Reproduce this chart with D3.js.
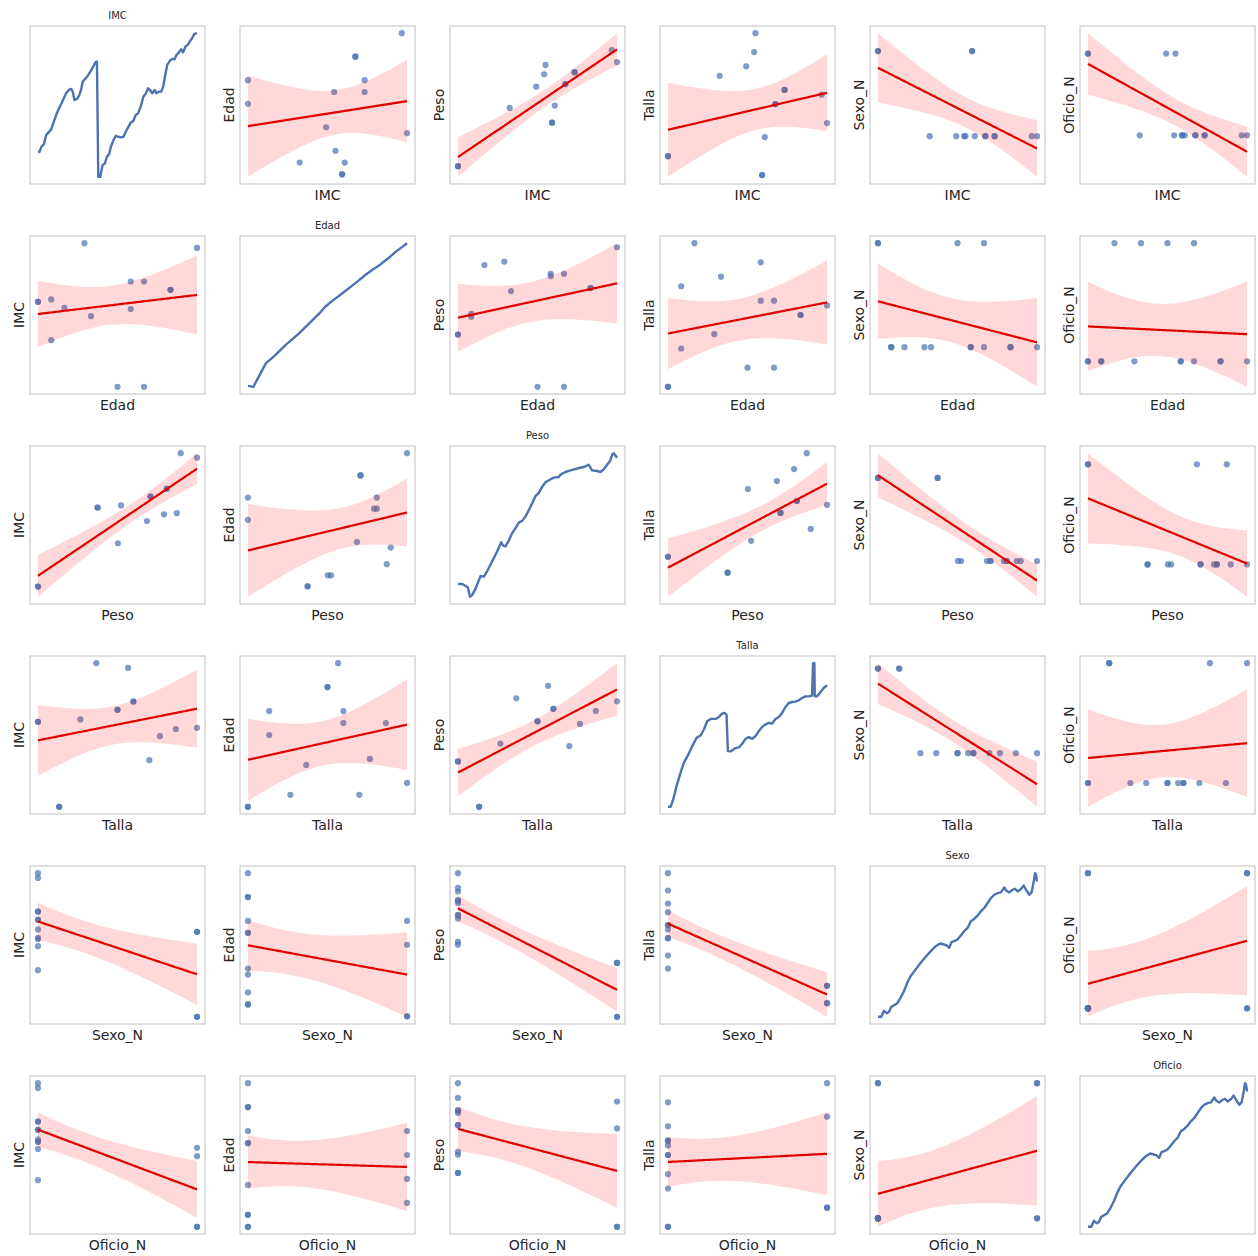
<!DOCTYPE html>
<html>
<head>
<meta charset="utf-8">
<script src="https://cdn.jsdelivr.net/npm/d3@7"></script>
<style>
  body { margin: 0; background: #fff; }
  text { font-family: "DejaVu Sans", "Liberation Sans", sans-serif; fill: #262626; }
</style>
</head>
<body>
<svg id="chart" width="1258" height="1256"></svg>
<script>
// Variables of the survey table, in grid order
const variables  = ["IMC", "Edad", "Peso", "Talla", "Sexo_N", "Oficio_N"];
const diagTitles = ["IMC", "Edad", "Peso", "Talla", "Sexo", "Oficio"];

// One entry per person
const imc     = [18.0, 18.0, 21.9, 23.9, 24.5, 24.6, 25.1, 25.1, 25.3, 26.1, 26.1, 26.8, 26.8, 29.6, 30.0];
const edad    = [36, 32, 22, 28, 34, 24, 20, 20, 22, 40, 40, 36, 34, 44, 27];
const peso    = [50.0, 50.0, 70.1, 77.4, 81.7, 84.9, 65.0, 65.0, 70.9, 78.3, 78.3, 82.4, 82.4, 90.0, 85.9];
const talla   = [1.54, 1.54, 1.71, 1.73, 1.76, 1.80, 1.50, 1.50, 1.58, 1.65, 1.65, 1.68, 1.68, 1.67, 1.61];
const sexoN   = [1, 1, 0, 0, 0, 0, 1, 1, 0, 0, 0, 0, 0, 0, 0];
const oficioN = [1, 1, 0, 1, 0, 1, 0, 0, 0, 0, 0, 0, 0, 0, 0];

// Diagonal traces: [position, level]
const diagIMC = [[0,20],[1,20],[2,23],[3.6,24.6],[5,30],[6.4,31.6],[8,33.4],[9.6,38],[11,42],[12.4,45.4],[14,48.6],[15.6,52],[17,55],[18.6,57],[20,57.6],[21,56],[22,51],[23.6,51.6],[25,54],[26,57],[27,62],[28.4,63.6],[30,65.4],[31.6,68],[33,70.4],[34.6,73.4],[35.6,74],[36.4,5],[37.6,5],[39,12],[40.4,13],[41.6,17],[43,18.6],[44,23],[45.6,27],[47,29.6],[48.4,29],[50,28.6],[51.6,29],[53,32],[54.4,34.6],[56,37.4],[57.6,38.6],[59,42],[60.4,43],[62,47],[63.6,53],[65,54.6],[66.4,58],[67.6,57],[69,55],[70.4,57],[71.6,55],[73,56],[74.4,56],[75.6,59],[77,67],[78,72],[79.6,74.4],[81,75.6],[82.4,75.4],[83.6,78],[85,79.4],[86.4,81.4],[87.6,79.6],[89,83],[90.4,84],[91.6,86],[93,88],[94.4,90.6],[96,91]];
const diagEdad = [[0,5],[3.2,4.4],[10.6,18.6],[15.6,23],[22.6,30],[29.6,36],[36.6,43],[42.6,49],[45.6,52.6],[49.6,56],[55.6,60.6],[61.6,65.4],[65.6,68.6],[69.6,72],[73.6,75],[78.6,78.4],[83.6,82.4],[87.6,86],[91.6,89],[94.6,91.4]];
const diagPeso = [[0,12.2],[2.6,12.2],[4.6,11],[6,10],[7.2,4.4],[8.6,5.6],[10.6,9.4],[12,13],[13.6,17],[15.6,16.6],[17.6,20],[19.6,24],[21.6,28],[23.6,32],[26,37.4],[27.2,35.4],[28.6,35],[30.6,38.6],[32.6,43],[34.6,46],[36.6,49.4],[38.6,50.4],[40.6,53],[42.6,57],[44.6,61],[46.6,65.4],[48.6,67.4],[50.6,71],[52.6,73.8],[54.6,75],[57.6,76.6],[60.6,77],[61.6,78.4],[64.6,80],[67.6,81],[70.6,81.8],[72.6,82.4],[75.6,83],[78.6,84.4],[80.6,81],[83.6,80.6],[85.6,80],[87.6,81.6],[89.6,84.4],[91.6,87],[92.6,90.4],[93.6,91.4],[95.6,88.6]];
const diagTalla = [[0,4.4],[1.6,4.4],[3.2,9],[5.2,17],[7.6,25],[9.6,31],[12,35.4],[14.6,41],[17.2,46],[19.6,47.4],[21.6,51],[23.6,56],[25.6,57.4],[28.6,57.4],[30.6,58.6],[32.6,60.6],[34,61],[35.2,60],[36,38],[37.6,37.8],[40.6,39.8],[42.6,40.2],[44.6,42.4],[46.6,45.4],[48.6,46.4],[50.6,45.4],[52.6,47],[54.6,50],[56.6,52.6],[58.6,54],[60.6,55],[62.6,54.6],[64.6,57.4],[66.6,58.6],[68.6,61],[70.6,64.6],[72.6,67],[74.6,67.6],[76.6,67.8],[78.6,68.6],[80.6,70],[82.6,71],[84.6,71],[86.6,71.4],[87.2,91],[88,91],[88.2,71],[89.6,71],[91.6,73.4],[93.6,76],[95.6,77.6]];
const diagSexo = [[0,4.4],[2,4.4],[3.6,8],[5.2,6.6],[6.6,7.4],[8,10.4],[9.6,11.4],[11.6,12.6],[13.6,16],[15.6,20],[17.6,25],[19.6,29],[22.6,33],[25.6,37],[28.6,40.6],[31.6,44],[34.6,47],[37.2,48.6],[39.6,48],[41.2,47.4],[42.6,46],[44,49.4],[45.6,50],[47.6,51],[49.6,53.4],[51.6,56],[53.6,58],[55.6,62],[57.6,63.4],[59.6,65.4],[61.6,68],[63.6,70],[65.6,73],[67.6,76],[69.6,78],[71.6,79],[73.6,79.4],[75.6,82.4],[76.6,80.6],[78.6,79.4],[80.6,81],[82,81.6],[83.6,80],[85.6,81.4],[87.2,83.6],[88.6,81],[90.6,78],[92,79.6],[93.2,86],[94,91],[94.6,90],[95.2,86]];
const diagOficio = [[0,4.4],[2,4.4],[3.6,8],[5.2,6.6],[6.6,7.4],[8,10.4],[9.6,11.4],[11.6,12.6],[13.6,16],[15.6,20],[17.6,25],[19.6,29],[22.6,33],[25.6,37],[28.6,40.6],[31.6,44],[34.6,47],[37.2,48.6],[39.6,48],[41.2,47.4],[42.6,46],[44,49.4],[45.6,50],[47.6,51],[49.6,53.4],[51.6,56],[53.6,58],[55.6,62],[57.6,63.4],[59.6,65.4],[61.6,68],[63.6,70],[65.6,73],[67.6,76],[69.6,78],[71.6,79],[73.6,79.4],[75.6,82.4],[76.6,80.6],[78.6,79.4],[80.6,81],[82,81.6],[83.6,80],[85.6,81.4],[87.2,83.6],[88.6,81],[90.6,78],[92,79.6],[93.2,86],[94,91],[94.6,90],[95.2,86]];

const columns = [imc, edad, peso, talla, sexoN, oficioN];
const diagTraces = [diagIMC, diagEdad, diagPeso, diagTalla, diagSexo, diagOficio];

// Grid geometry
const cellW = 175, cellH = 158, left0 = 30, top0 = 26, stepX = 210, stepY = 210;
const pointColor = "#4c72b0", fitColor = "#e00000";

const svg = d3.select("#chart");

// Pad an extent by 5% on each side
function padded(ext) {
  const span = ext[1] - ext[0] || 1;
  return [ext[0] - span * 0.05, ext[1] + span * 0.05];
}

// Least squares fit with a confidence band for the mean
function fitLine(xs, ys) {
  const n = xs.length;
  const mx = d3.mean(xs), my = d3.mean(ys);
  let sxx = 0, sxy = 0;
  xs.forEach((x, i) => { sxx += (x - mx) ** 2; sxy += (x - mx) * (ys[i] - my); });
  const b = sxy / sxx, a = my - b * mx;
  let sse = 0;
  xs.forEach((x, i) => { sse += (ys[i] - a - b * x) ** 2; });
  const s2 = sse / (n - 2);
  const crit = 1.8;
  const [x0, x1] = d3.extent(xs);
  return d3.range(101).map(k => {
    const x = x0 + (x1 - x0) * k / 100;
    const yhat = a + b * x;
    const se = Math.sqrt(s2 * (1 / n + (x - mx) ** 2 / sxx));
    return { x, y: yhat, lo: yhat - crit * se, hi: yhat + crit * se };
  });
}

variables.forEach((xName, r) => {
  variables.forEach((yName, c) => {
    const ox = left0 + c * stepX, oy = top0 + r * stepY;
    const g = svg.append("g").attr("transform", `translate(${ox},${oy})`);

    if (r === c) {
      const trace = diagTraces[r];
      const x = d3.scaleLinear().domain(padded(d3.extent(trace, d => d[0]))).range([0, cellW]);
      const y = d3.scaleLinear().domain(padded(d3.extent(trace, d => d[1]))).range([cellH, 0]);
      g.append("path")
        .datum(trace)
        .attr("fill", "none")
        .attr("stroke", pointColor)
        .attr("stroke-width", 2.4)
        .attr("stroke-linejoin", "round")
        .attr("d", d3.line().x(d => x(d[0])).y(d => y(d[1])));
      g.append("text")
        .attr("x", cellW / 2).attr("y", -7)
        .attr("text-anchor", "middle")
        .attr("font-size", 10)
        .text(diagTitles[r]);
    } else {
      const xs = columns[r], ys = columns[c];
      const fit = fitLine(xs, ys);
      const yExt = d3.extent([...ys, ...fit.map(d => d.lo), ...fit.map(d => d.hi)]);
      const x = d3.scaleLinear().domain(padded(d3.extent(xs))).range([0, cellW]);
      const y = d3.scaleLinear().domain(padded(yExt)).range([cellH, 0]);

      g.selectAll("circle")
        .data(xs.map((v, i) => [v, ys[i]]))
        .join("circle")
        .attr("cx", d => x(d[0])).attr("cy", d => y(d[1]))
        .attr("r", 3.1)
        .attr("fill", pointColor)
        .attr("fill-opacity", 0.7);

      g.append("path")
        .datum(fit)
        .attr("fill", "#ff0000")
        .attr("fill-opacity", 0.15)
        .attr("d", d3.area().x(d => x(d.x)).y0(d => y(d.lo)).y1(d => y(d.hi)));

      g.append("path")
        .datum(fit)
        .attr("fill", "none")
        .attr("stroke", fitColor)
        .attr("stroke-width", 2.2)
        .attr("d", d3.line().x(d => x(d.x)).y(d => y(d.y)));

      g.append("text")
        .attr("x", cellW / 2).attr("y", cellH + 16)
        .attr("text-anchor", "middle")
        .attr("font-size", 14)
        .text(xName);
      g.append("text")
        .attr("transform", `translate(-6,${cellH / 2}) rotate(-90)`)
        .attr("text-anchor", "middle")
        .attr("font-size", 14)
        .text(yName);
    }

    g.append("rect")
      .attr("width", cellW).attr("height", cellH)
      .attr("fill", "none")
      .attr("stroke", "#cccccc")
      .attr("stroke-width", 1.25);
  });
});
</script>
</body>
</html>
